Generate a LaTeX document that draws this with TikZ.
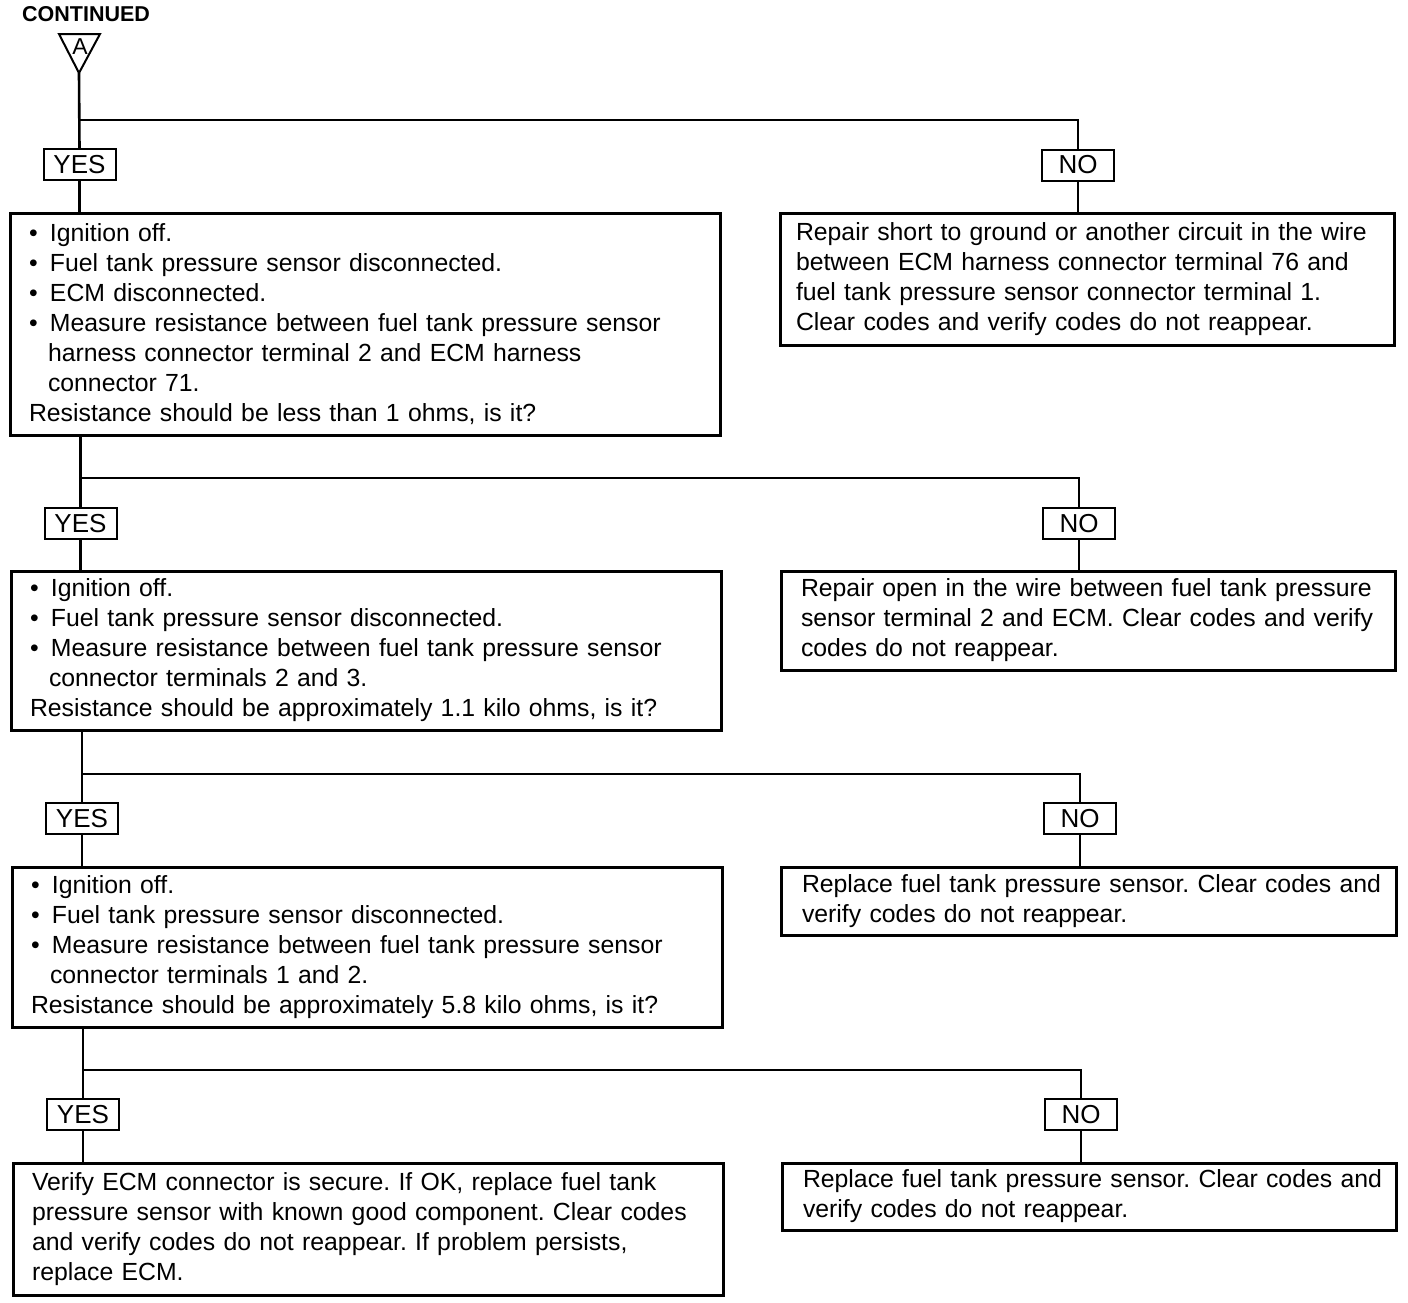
\documentclass[tikz,border=0pt]{standalone}
\usepackage{fontspec}
\setmainfont{Liberation Sans}
\newcommand\bl[1]{\mbox{\makebox[21pt][l]{\textbullet}#1}}
\newcommand\cl[1]{\mbox{\hspace*{19pt}#1}}
\newcommand\pl[1]{\mbox{#1}}
\begin{document}
\begin{tikzpicture}[x=1pt,y=-1pt,
  box/.style={draw, line width=3pt, anchor=north west, inner ysep=0pt, outer sep=0pt, align=left, font=\fontsize{24.8}{30}\selectfont\frenchspacing},
  lab/.style={draw, line width=2pt, minimum width=72pt, minimum height=31pt, inner sep=0pt, outer sep=0pt, font=\fontsize{26}{30}\selectfont},
  wire/.style={line width=2.6pt}]
\useasboundingbox (0,0) rectangle (1408,1302);
\fill[white] (0,0) rectangle (1408,1302);

% header
\node[anchor=west, inner sep=0pt, font=\fontsize{21.5}{24}\selectfont\bfseries] (cont) at (22,14) {CONTINUED};
\draw[line width=2pt, line join=miter] (59,34) -- (100,34) -- (79,73) -- cycle;
\coordinate (apex) at (79,73);
\node[inner sep=0pt, font=\fontsize{23}{24}\selectfont] (A) at (80,47) {A};

% labels
\node[lab] (yes1) at (79.5,164.5) {YES};
\node[lab] (no1) at (1078,165) {NO};
\node[lab] (yes2) at (80.5,523.5) {YES};
\node[lab] (no2) at (1079,523.5) {NO};
\node[lab] (yes3) at (82,818.5) {YES};
\node[lab] (no3) at (1080,818.5) {NO};
\node[lab] (yes4) at (83,1114.5) {YES};
\node[lab] (no4) at (1081,1114.5) {NO};

% boxes
\node[box, inner xsep=19pt, text width=672pt, minimum height=222pt] (q1) at (10,213) {%
\bl{Ignition off.}\\
\bl{Fuel tank pressure sensor disconnected.}\\
\bl{ECM disconnected.}\\
\bl{Measure resistance between fuel tank pressure sensor}\\
\cl{harness connector terminal 2 and ECM harness}\\
\cl{connector 71.}\\
\pl{Resistance should be less than 1 ohms, is it?}};

\node[box, inner xsep=16pt, text width=582pt, minimum height=132pt] (r1) at (780,213) {%
\pl{Repair short to ground or another circuit in the wire}\\
\pl{between ECM harness connector terminal 76 and}\\
\pl{fuel tank pressure sensor connector terminal 1.}\\
\pl{Clear codes and verify codes do not reappear.}};

\node[box, inner xsep=19pt, text width=672pt, minimum height=159pt] (q2) at (11,571) {%
\bl{Ignition off.}\\
\bl{Fuel tank pressure sensor disconnected.}\\
\bl{Measure resistance between fuel tank pressure sensor}\\
\cl{connector terminals 2 and 3.}\\
\pl{Resistance should be approximately 1.1 kilo ohms, is it?}};

\node[box, inner xsep=20pt, text width=574pt, minimum height=99pt] (r2) at (781,571) {%
\pl{Repair open in the wire between fuel tank pressure}\\
\pl{sensor terminal 2 and ECM. Clear codes and verify}\\
\pl{codes do not reappear.}};

\node[box, inner xsep=19pt, text width=672pt, minimum height=160pt] (q3) at (12,867) {%
\bl{Ignition off.}\\
\bl{Fuel tank pressure sensor disconnected.}\\
\bl{Measure resistance between fuel tank pressure sensor}\\
\cl{connector terminals 1 and 2.}\\
\pl{Resistance should be approximately 5.8 kilo ohms, is it?}};

\node[box, inner xsep=21pt, text width=573pt, minimum height=68pt] (r3) at (781,867) {%
\pl{Replace fuel tank pressure sensor. Clear codes and}\\
\pl{verify codes do not reappear.}};

\node[box, inner xsep=19pt, text width=672pt, minimum height=132pt] (q4) at (13,1163) {%
\pl{Verify ECM connector is secure. If OK, replace fuel tank}\\
\pl{pressure sensor with known good component. Clear codes}\\
\pl{and verify codes do not reappear. If problem persists,}\\
\pl{replace ECM.}};

\node[box, inner xsep=21pt, text width=572pt, minimum height=67pt] (r4) at (782,1163) {%
\pl{Replace fuel tank pressure sensor. Clear codes and}\\
\pl{verify codes do not reappear.}};

% junction coordinates
\coordinate (j1) at (79.5,120);
\coordinate (j2) at (80.5,478);
\coordinate (j3) at (82,774);
\coordinate (j4) at (83,1070);

% connectors
\draw[wire] (apex) -- (yes1.north);
\draw[wire] (yes1.south) -- (yes1.south |- q1.north);
\draw[wire] (j1) -| (no1.north);
\draw[wire] (no1.south) -- (no1.south |- r1.north);

\draw[wire] (q1.south -| yes2) -- (yes2.north);
\draw[wire] (yes2.south) -- (yes2.south |- q2.north);
\draw[wire] (j2) -| (no2.north);
\draw[wire] (no2.south) -- (no2.south |- r2.north);

\draw[wire] (q2.south -| yes3) -- (yes3.north);
\draw[wire] (yes3.south) -- (yes3.south |- q3.north);
\draw[wire] (j3) -| (no3.north);
\draw[wire] (no3.south) -- (no3.south |- r3.north);

\draw[wire] (q3.south -| yes4) -- (yes4.north);
\draw[wire] (yes4.south) -- (yes4.south |- q4.north);
\draw[wire] (j4) -| (no4.north);
\draw[wire] (no4.south) -- (no4.south |- r4.north);
\end{tikzpicture}
\end{document}
